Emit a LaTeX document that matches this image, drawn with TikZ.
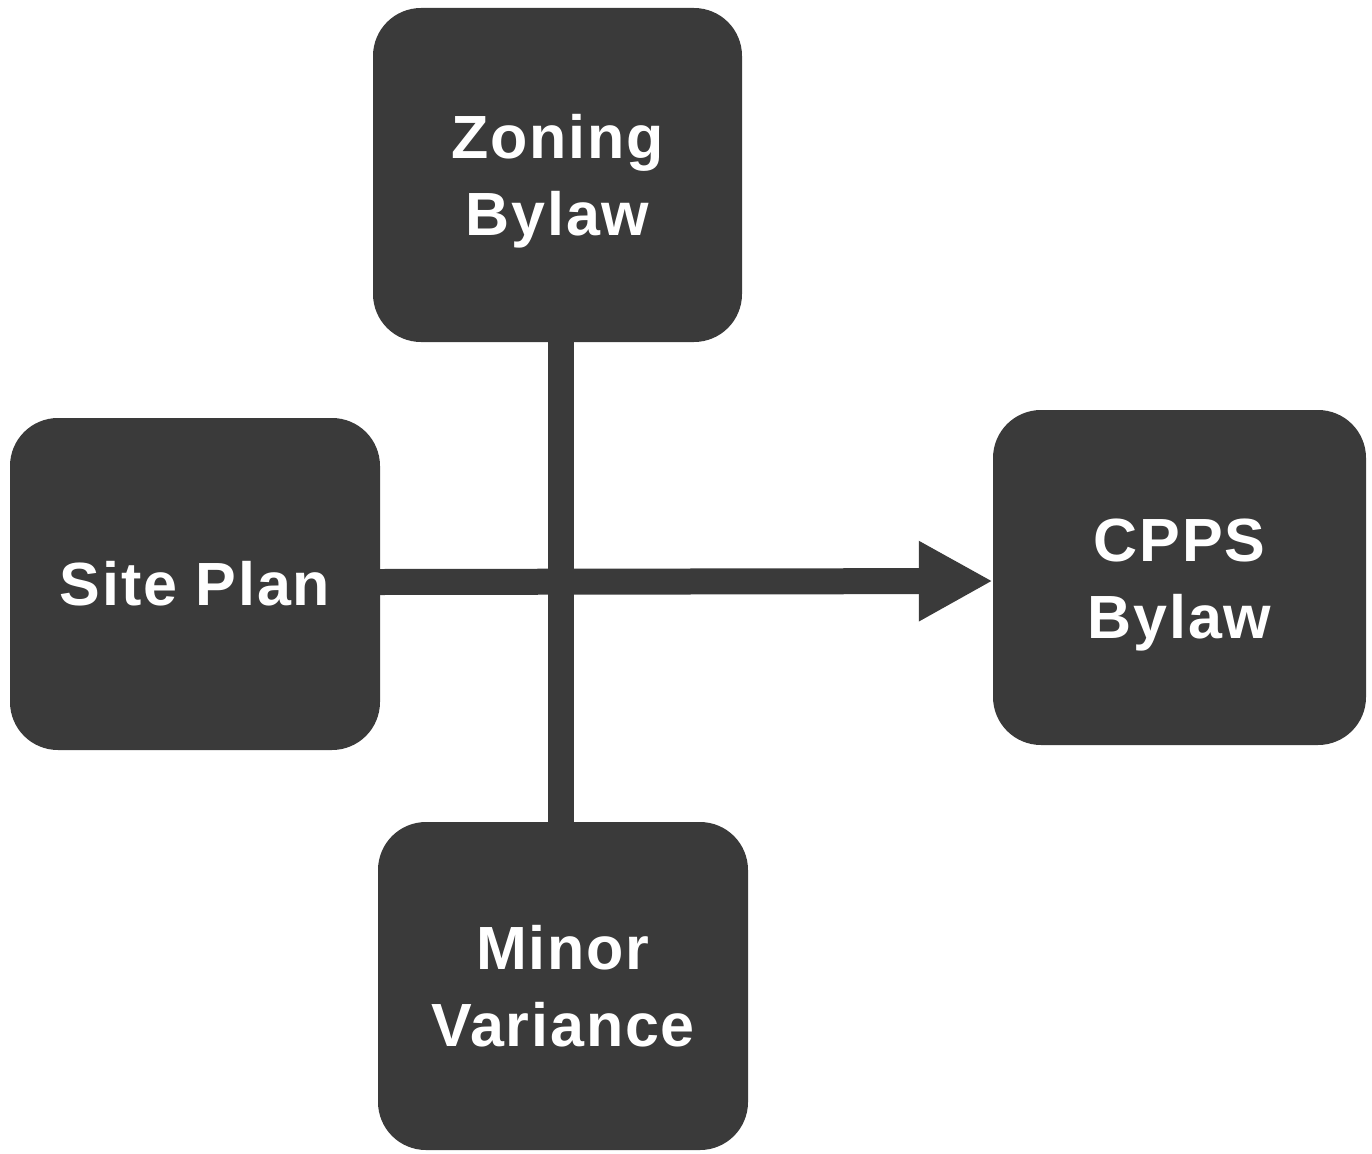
\documentclass[tikz,border=0pt]{standalone}
\usepackage{fontspec}
\setmainfont{Liberation Sans}[LetterSpace=3]
\usetikzlibrary{arrows.meta,calc}
\definecolor{boxgray}{HTML}{3A3A3A}
\newcommand{\twolines}[2]{\raisebox{-7pt}[\height][\depth]{\begin{tabular}{@{}c@{}}#1\\#2\end{tabular}}}
\begin{document}
\begin{tikzpicture}[x=1pt,y=-1pt,
  box/.style={fill=boxgray,rounded corners=48pt,inner sep=0pt,
    text=white,font=\bfseries\fontsize{61}{77}\selectfont,align=center},
  link/.style={draw=boxgray,line width=26pt}]
\useasboundingbox (0,0) rectangle (1372,1153);
\node[box,minimum width=369pt,minimum height=334pt] (zoning) at (557.5,175) {\twolines{Zoning}{Bylaw}};
\node[box,minimum width=370pt,minimum height=332pt] (site) at (195,584) {Site Plan};
\node[box,minimum width=373pt,minimum height=335pt] (cpps) at (1179.5,577.5) {\twolines{CPPS}{Bylaw}};
\node[box,minimum width=370pt,minimum height=328pt] (minor) at (563,986) {\twolines{Minor}{Variance}};
\draw[link] ($(zoning.south)+(3.5,0)$) -- ($(minor.north)+(-2,0)$);
\draw[link,-{Triangle[length=74pt,width=75pt]}] ($(site.east)+(0,-2)$) -- ($(cpps.west)+(0,3.5)$);
\end{tikzpicture}
\end{document}
